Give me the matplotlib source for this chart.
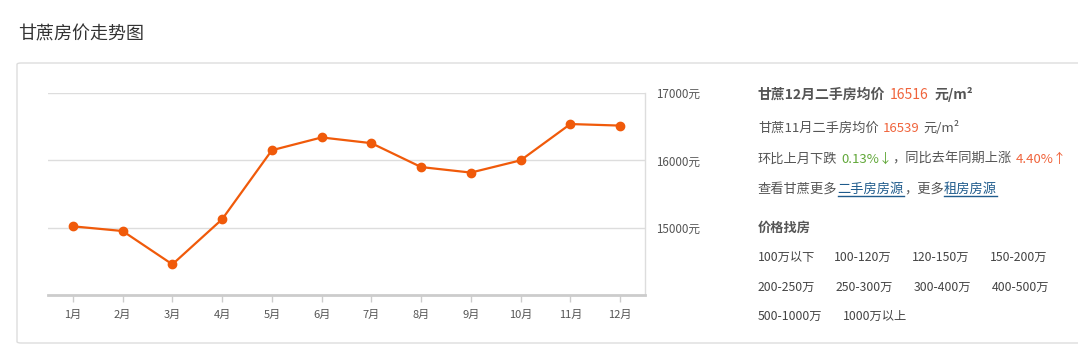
import matplotlib
matplotlib.use("Agg")
import matplotlib.pyplot as plt
from matplotlib.patches import FancyBboxPatch
from matplotlib.lines import Line2D

plt.rcParams['font.family'] = ['Noto Sans CJK SC', 'DejaVu Sans']

months = ["1月", "2月", "3月", "4月", "5月", "6月", "7月", "8月", "9月", "10月", "11月", "12月"]
prices = [15020, 14950, 14455, 15125, 16150, 16340, 16255, 15900, 15818, 16000, 16539, 16516]
yticks = [15000, 16000, 17000]
ytick_labels = ["15000元", "16000元", "17000元"]
price_ranges_rows = [["100万以下", "100-120万", "120-150万", "150-200万"],
                     ["200-250万", "250-300万", "300-400万", "400-500万"],
                     ["500-1000万", "1000万以上"]]

W, H = 1078, 350
fig = plt.figure(figsize=(W / 100, H / 100), dpi=100)

def X(x):
    return x / W

def Y(y):
    return 1 - y / H

GRAY = "#555555"
ORANGE = "#f0643c"
GREEN = "#62a83a"
LINK = "#1f5b8c"
LINE = "#f05a0a"

# outer box
box = FancyBboxPatch((X(17), Y(343)), X(1090) - X(17), Y(63) - Y(343),
                     boxstyle="round,pad=0,rounding_size=0.004",
                     transform=fig.transFigure, facecolor="none",
                     edgecolor="#dddddd", linewidth=1.0)
fig.patches.append(box)

fig.text(X(18), Y(34), "甘蔗房价走势图", fontsize=13, color="#333333", va="center", ha="left")

# chart axes
ax = fig.add_axes([X(48), Y(295), X(645) - X(48), Y(93) - Y(295)])
ax.patch.set_alpha(0)
xs = list(range(1, len(months) + 1))
ax.plot(xs, prices, color=LINE, linewidth=1.6, marker="o", markersize=6,
        markerfacecolor=LINE, markeredgecolor=LINE, zorder=3, clip_on=False)
ax.set_xlim(0.5, 12.5)
ax.set_ylim(14000, 17000)
ax.set_yticks(yticks)
ax.set_yticklabels(ytick_labels)
ax.yaxis.tick_right()
ax.tick_params(axis="y", length=0, pad=8, labelsize=8.4, labelcolor=GRAY)
ax.set_xticks(xs)
ax.set_xticklabels(months)
ax.tick_params(axis="x", length=5, width=1, color="#cccccc", direction="out",
               pad=6, labelsize=8, labelcolor=GRAY)
ax.grid(axis="y", color="#dddddd", linewidth=1)
ax.set_axisbelow(True)
for s in ["top", "left"]:
    ax.spines[s].set_visible(False)
ax.spines["right"].set_color("#dddddd")
ax.spines["right"].set_linewidth(1)
ax.spines["bottom"].set_color("#cccccc")
ax.spines["bottom"].set_linewidth(2)

renderer = fig.canvas.get_renderer()

def seq(x, y, segs, size=9.5):
    for seg in segs:
        text, color, bold, underline, gap = seg
        t = fig.text(X(x), Y(y), text, fontsize=size, color=color,
                     fontweight="bold" if bold else "normal", va="baseline", ha="left")
        bb = t.get_window_extent(renderer)
        if underline:
            fig.add_artist(Line2D([X(x), X(x + bb.width)], [Y(y + 3), Y(y + 3)],
                                  transform=fig.transFigure, color=color, linewidth=1))
        x += bb.width + gap

seq(758, 99, [("甘蔗12月二手房均价", GRAY, True, False, 4),
              (str(prices[11]), ORANGE, False, False, 6),
              ("元/m²", GRAY, True, False, 0)], size=10)
seq(758, 132, [("甘蔗11月二手房均价", GRAY, False, False, 4),
               (str(prices[10]), ORANGE, False, False, 4),
               ("元/m²", GRAY, False, False, 0)])
seq(758, 163, [("环比上月下跌", GRAY, False, False, 4),
               ("0.13%↓", GREEN, False, False, 0),
               ("，同比去年同期上涨", GRAY, False, False, 4),
               ("4.40%↑", ORANGE, False, False, 0)])
seq(758, 193, [("查看甘蔗更多", GRAY, False, False, 0),
               ("二手房房源", LINK, False, True, 0),
               ("，更多", GRAY, False, False, 0),
               ("租房房源", LINK, False, True, 0)])
seq(758, 232, [("价格找房", GRAY, True, False, 0)])

row_x = [[758, 834, 912, 990], [758, 836, 914, 992], [758, 843]]
row_y = [261, 291, 320]
for labels, xs_row, yy in zip(price_ranges_rows, row_x, row_y):
    for lab, xx in zip(labels, xs_row):
        fig.text(X(xx), Y(yy), lab, fontsize=8.8, color="#444444", va="baseline", ha="left")

fig.savefig("out.png", dpi=100, facecolor="white")
